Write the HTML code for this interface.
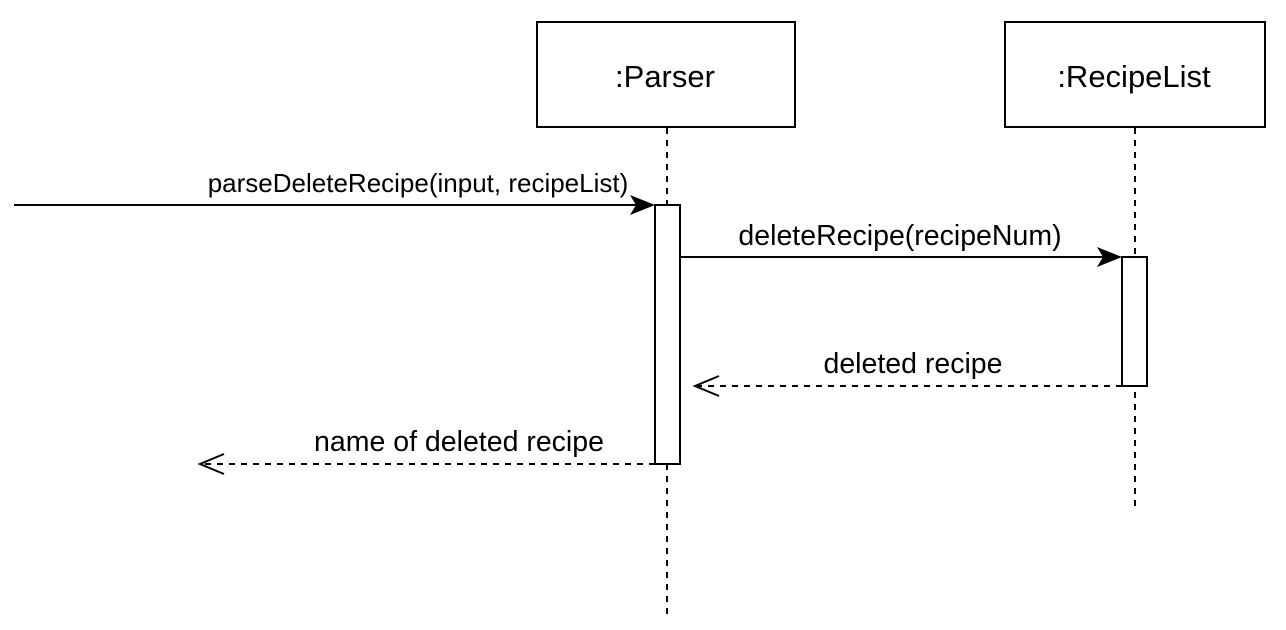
<!DOCTYPE html>
<html><head><meta charset="utf-8"><style>
html,body{margin:0;padding:0;background:#fff;}
svg{display:block;}
text{font-family:"Liberation Sans",Helvetica,Arial,sans-serif;fill:#000;}
</style></head><body>
<svg width="1286" height="630" viewBox="0 0 1286 630" xmlns="http://www.w3.org/2000/svg">
<line x1="667" y1="128" x2="667" y2="620" stroke="#000" stroke-width="2" stroke-dasharray="6,6"/>
<line x1="1135" y1="128" x2="1135" y2="512" stroke="#000" stroke-width="2" stroke-dasharray="6,6"/>
<rect x="537" y="22" width="258" height="105" fill="#fff" stroke="#000" stroke-width="2"/>
<text x="665" y="87" font-size="31" text-anchor="middle">:Parser</text>
<rect x="1005" y="22" width="260" height="105" fill="#fff" stroke="#000" stroke-width="2"/>
<text x="1134" y="87" font-size="31" text-anchor="middle">:RecipeList</text>
<rect x="655" y="205" width="25" height="259" fill="#fff" stroke="#000" stroke-width="2"/>
<rect x="1122" y="257" width="25" height="129" fill="#fff" stroke="#000" stroke-width="2"/>
<line x1="14" y1="205" x2="640" y2="205" stroke="#000" stroke-width="2"/>
<polygon points="655,205 630,195 636,205 630,215" fill="#000"/>
<text x="418" y="192" font-size="26" text-anchor="middle">parseDeleteRecipe(input, recipeList)</text>
<line x1="680" y1="257" x2="1108" y2="257" stroke="#000" stroke-width="2"/>
<polygon points="1122,257 1097,247 1103,257 1097,267" fill="#000"/>
<text x="900" y="245" font-size="28.5" text-anchor="middle">deleteRecipe(recipeNum)</text>
<line x1="1122" y1="386" x2="697" y2="386" stroke="#000" stroke-width="2" stroke-dasharray="6,6"/>
<polyline points="719,376 695,386 719,396" fill="none" stroke="#000" stroke-width="2"/>
<text x="913" y="373" font-size="28.5" text-anchor="middle">deleted recipe</text>
<line x1="655" y1="464" x2="202" y2="464" stroke="#000" stroke-width="2" stroke-dasharray="6,6"/>
<polyline points="224,454 200,464 224,474" fill="none" stroke="#000" stroke-width="2"/>
<text x="459" y="451" font-size="28.5" text-anchor="middle">name of deleted recipe</text>
</svg>
</body></html>
